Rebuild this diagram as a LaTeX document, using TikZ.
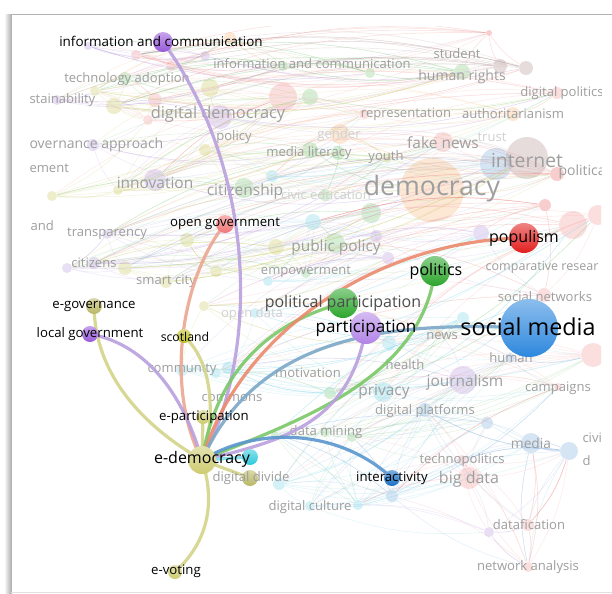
\documentclass[tikz,border=0pt]{standalone}
\usepackage{fontspec}
\setmainfont{Open Sans}
\usetikzlibrary{positioning}

% node colours
\definecolor{cOlive}{RGB}{206,204,112}
\definecolor{cScot}{RGB}{190,190,38}
\definecolor{cPurple}{RGB}{152,88,218}
\definecolor{cLilac}{RGB}{178,132,230}
\definecolor{cRed}{RGB}{226,30,30}
\definecolor{cSalmon}{RGB}{240,118,118}
\definecolor{cGreen}{RGB}{44,166,44}
\definecolor{cBlue}{RGB}{46,136,222}
\definecolor{cNavy}{RGB}{24,110,196}
\definecolor{cCyan}{RGB}{44,200,220}
% edge colours
\definecolor{eOlive}{RGB}{212,212,138}
\definecolor{ePurple}{RGB}{186,160,222}
\definecolor{eOrange}{RGB}{236,138,108}
\definecolor{eSalmon}{RGB}{236,166,146}
\definecolor{eGreen}{RGB}{122,200,104}
\definecolor{eBlue}{RGB}{90,150,206}
\definecolor{eTeal}{RGB}{124,168,200}
% faded colours
\definecolor{cPinkL}{RGB}{244,150,150}
\definecolor{cGreenL}{RGB}{120,200,120}
\definecolor{cOliveL}{RGB}{200,200,90}
\definecolor{cPurpleL}{RGB}{180,150,225}
\definecolor{cCyanL}{RGB}{110,210,230}
\definecolor{cBlueL}{RGB}{120,170,220}
\definecolor{cOrangeL}{RGB}{250,180,120}
\definecolor{cBrownL}{RGB}{175,140,140}
\definecolor{cRedL}{RGB}{235,90,90}

\tikzset{every picture/.style={line width=0.75pt}}
\tikzset{
	bgnode/.style={circle, inner sep=0pt, minimum size=#1*1.5pt, fill opacity=0.3},
	bgedge/.style={line width=0.35pt, draw opacity=0.22},
	bglab/.style={inner sep=0pt, text=black!38, font=\fontsize{9.8}{11}\selectfont},
	bgfaint/.style={bglab, text=black!18},
	bgmid/.style={bglab, font=\fontsize{11.6}{13}\selectfont},
	hinode/.style={circle, inner sep=0pt, minimum size=#1*1.5pt},
	hifill/.style={top color=#1!55!white, bottom color=#1},
	hiedge/.style={line width=2.4pt, draw opacity=0.9},
	hilab/.style={inner sep=0pt, text=black, font=\fontsize{9.9}{11}\selectfont},
	himid/.style={hilab, font=\fontsize{12}{14}\selectfont}
}

% faded network: x/y/radius/colour
\def\bglist{88/46/4/cPurpleL, 136/55/5/cPinkL, 171/66/5/cPinkL, 205/56/5/cPurpleL,
	230/38/6/cOrangeL, 283/66/5/cGreenL, 370/73/5/cGreenL, 462/72/8/cGreenL,
	489/33/3/cRedL, 500/66/7/cBrownL, 526/68/7/cBrownL, 125/78/6/cGreenL,
	57/100/5/cPurpleL, 95/91/5/cOliveL, 114/106/8/cOliveL, 155/100/7/cPinkL,
	148/120/5/cPinkL, 210/88/9/cOliveL, 220/117/12/cPurpleL, 283/97/14/cPinkL,
	310/97/8/cGreenL, 364/114/5/cPinkL, 513/114/7/cOrangeL, 557/93/6/cPinkL,
	93/145/6/cPurpleL, 52/196/5/cOliveL, 118/190/5/cOliveL, 155/180/11/cPurpleL,
	205/150/6/cOliveL, 244/188/10/cGreenL, 272/176/6/cCyanL, 310/150/8/cGreenL,
	338/153/7/cGreenL, 340/134/10/cOrangeL, 387/158/5/cOliveL, 443/142/10/cPinkL,
	432/190/32/cOrangeL, 496/164/16/cBlueL, 527/158/21/cBrownL, 557/174/7/cRedL,
	325/195/6/cGreenL, 107/234/5/cPurpleL, 67/268/5/cPurpleL, 94/263/6/cPurpleL,
	125/268/7/cOliveL, 187/240/7/cOliveL, 166/282/6/cOliveL, 216/271/6/cOliveL,
	276/247/8/cOliveL, 268/281/5/cCyanL, 313/222/8/cCyanL, 306/273/5/cGreenL,
	335/243/10/cGreenL, 371/213/10/cGreenL, 376/236/6/cPurpleL, 388/258/6/cPurpleL,
	481/233/8/cPurpleL, 545/205/6/cRedL, 573/225/14/cPinkL, 598/215/10/cPinkL,
	544/295/7/cPinkL, 204/306/5/cOliveL, 255/313/5/cCyanL, 182/370/6/cCyanL,
	216/373/5/cCyanL, 228/368/6/cCyanL, 330/393/6/cGreenL, 383/392/10/cCyanL,
	389/343/7/cCyanL, 439/333/4/cOrangeL, 463/318/6/cCyanL, 463/380/14/cPurpleL,
	593/355/12/cPinkL, 558/387/4/cPinkL, 510/358/5/cBlueL, 275/435/4/cGreenL,
	325/432/5/cGreenL, 352/437/5/cGreenL, 279/484/6/cCyanL, 310/506/5/cCyanL,
	358/505/5/cCyanL, 392/496/6/cBlueL, 425/410/7/cBlueL, 487/423/6/cBlueL,
	462/460/5/cPinkL, 469/478/11/cPinkL, 531/443/10/cBlueL, 569/451/9/cBlueL,
	489/532/5/cPurpleL, 528/525/6/cPinkL, 528/567/5/cPinkL}

\begin{document}
\begin{tikzpicture}[x=0.75pt,y=0.75pt,yscale=-1,xscale=1]
	\useasboundingbox (0,0) rectangle (612,594);

	%Shape: Frame
	\fill[white] (0,0) rectangle (612,594);
	\shade[left color=white, right color=black!30] (4,14) rectangle (11,594);
	\draw[black!30] (11,594) -- (11,14) -- (612,14);
	\draw[black!12] (11,592) -- (612,592);

	%Faded network
	\begin{scope}
	\clip (29,26) rectangle (601,586);
	\foreach \x/\y/\r/\c [count=\n] in \bglist {
		\node[bgnode=\r, fill=\c] (bg\n) at (\x,\y) {};
		\xdef\nbg{\n}
	}
	\pgfmathsetseed{2024}
	\foreach \x/\y/\r/\c [count=\n] in \bglist {
		\foreach \k in {1,...,8} {
			\pgfmathtruncatemacro{\lo}{max(1,\n-9)}
			\pgfmathtruncatemacro{\hi}{min(\nbg,\n+9)}
			\pgfmathtruncatemacro{\m}{random(\lo,\hi)}
			\ifnum\m=\n\else
				\draw[bgedge, \c] (bg\n) to[bend left=12] (bg\m);
			\fi
		}
	}

	% Text Node
	\node[bglab] (l-infocom) at (312,64) {information and communication};
	\node[bglab] (l-student) at (457,54) {student};
	\node[bglab, font=\fontsize{10.5}{12}\selectfont] (l-human) at (462,77) {human rights};
	\node[bglab] (l-techad) at (127,79) {technology adoption};
	\node[bglab] (l-digpol) at (562,93) {digital politics};
	\node[bglab, anchor=west] (l-stain) at (29,100) {stainability};
	\node[bgmid, font=\fontsize{12.3}{14}\selectfont] (l-digdem) at (218,114) {digital democracy};
	\node[bglab] (l-repr) at (406,114) {representation};
	\node[bglab] (l-autho) at (513,114) {authoritarianism};
	\node[bglab] (l-policy) at (234,137) {policy};
	\node[bglab, anchor=west, font=\fontsize{10.5}{12}\selectfont] (l-govapp) at (29,145) {overnance approach};
	\node[bgfaint] (l-gender) at (339,135) {gender};
	\node[bgfaint] (l-trust) at (492,137) {trust};
	\node[bgmid] (l-fake) at (443,143) {fake news};
	\node[bglab] (l-medlit) at (309,153) {media literacy};
	\node[bglab] (l-youth) at (386,157) {youth};
	\node[bgmid, font=\fontsize{14.5}{16}\selectfont] (l-internet) at (527,160) {internet};
	\node[bglab, anchor=west, font=\fontsize{10.5}{12}\selectfont] (l-politica) at (558,172) {politica};
	\node[bglab, anchor=west] (l-ement) at (29,168) {ement};
	\node[bgmid] (l-innov) at (155,183) {innovation};
	\node[bgmid] (l-citiz) at (245,191) {citizenship};
	\node[bgfaint] (l-civic) at (326,195) {civic education};
	\node[bgmid, font=\fontsize{20}{22}\selectfont] (l-democ) at (432,189) {democracy};
	\node[bglab, anchor=west] (l-and) at (30,226) {and};
	\node[bglab] (l-transp) at (107,234) {transparency};
	\node[bgmid] (l-pubpol) at (336,247) {public policy};
	\node[bglab] (l-citizens) at (94,263) {citizens};
	\node[bglab] (l-empow) at (306,272) {empowerment};
	\node[bglab, anchor=east, font=\fontsize{9.4}{11}\selectfont] (l-compar) at (599,267) {comparative resear};
	\node[bglab] (l-smart) at (166,281) {smart city};
	\node[bglab] (l-socnet) at (545,297) {social networks};
	\node[bgfaint] (l-opendata) at (252,314) {open data};
	\node[bglab] (l-news) at (442,336) {news};
	\node[bglab] (l-human2) at (511,358) {human};
	\node[bglab] (l-health) at (405,365) {health};
	\node[bglab] (l-commu) at (182,369) {community};
	\node[bglab] (l-motiv) at (308,373) {motivation};
	\node[bgmid] (l-journ) at (465,382) {journalism};
	\node[bglab] (l-campa) at (558,388) {campaigns};
	\node[bgmid] (l-privacy) at (384,392) {privacy};
	\node[bglab] (l-commons) at (232,398) {commons};
	\node[bglab] (l-digplat) at (425,411) {digital platforms};
	\node[bglab] (l-datamin) at (326,432) {data mining};
	\node[bglab, font=\fontsize{10.3}{12}\selectfont] (l-media) at (531,443) {media};
	\node[bglab, anchor=west] (l-civi) at (582,438) {civi};
	\node[bglab, anchor=west] (l-d) at (582,461) {d};
	\node[bglab] (l-techno) at (462,460) {technopolitics};
	\node[bgmid, font=\fontsize{12}{14}\selectfont] (l-bigdata) at (469,479) {big data};
	\node[bglab] (l-digcult) at (310,507) {digital culture};
	\node[bglab] (l-datafic) at (529,525) {datafication};
	\node[bglab] (l-netan) at (528,567) {network analysis};
	\end{scope}

	%Highlighted nodes (positions)
	\coordinate (edem) at (202,460);
	\coordinate (info) at (163,42);
	\coordinate (opengov) at (225,224);
	\coordinate (egov) at (94,306);
	\coordinate (localgov) at (90,334);
	\coordinate (scot) at (184,336);
	\coordinate (epart) at (203,417);
	\coordinate (evote) at (175,572);
	\coordinate (cyan) at (250,457);
	\coordinate (ddiv) at (250,478);
	\coordinate (interact) at (392,478);
	\coordinate (politics) at (435,271);
	\coordinate (populism) at (524,238);
	\coordinate (polpart) at (343,303);
	\coordinate (part) at (366,328);
	\coordinate (smedia) at (529,328);

	%Curve Lines
	\draw[hiedge, ePurple] (info) .. controls (250,160) and (265,340) .. (edem);
	\draw[hiedge, eSalmon] (opengov) .. controls (180,280) and (165,390) .. (edem);
	\draw[hiedge, eOlive] (scot) .. controls (215,365) and (215,420) .. (edem);
	\draw[hiedge, eOlive] (egov) .. controls (95,380) and (150,430) .. (edem);
	\draw[hiedge, ePurple] (localgov) .. controls (150,345) and (185,400) .. (edem);
	\draw[hiedge, eOlive] (epart) -- (edem);
	\draw[hiedge, eOlive] (edem) .. controls (215,500) and (210,540) .. (evote);
	\draw[hiedge, eGreen] (politics) .. controls (420,380) and (300,420) .. (edem);
	\draw[hiedge, eGreen] (polpart) .. controls (260,325) and (215,380) .. (edem);
	\draw[hiedge, eOrange] (populism) .. controls (380,240) and (240,330) .. (edem);
	\draw[hiedge, eTeal] (smedia) .. controls (400,322) and (260,330) .. (edem);
	\draw[hiedge, ePurple] (part) .. controls (350,420) and (290,440) .. (edem);
	\draw[hiedge, eBlue] (interact) .. controls (340,430) and (260,425) .. (edem);
	\draw[hiedge, cCyan!60] (cyan) -- (edem);
	\draw[hiedge, eOlive] (ddiv) -- (edem);

	%Shape: Circle
	\node[hinode=14, hifill=cOlive] (edem-n) at (edem) {};
	\node[hinode=10, hifill=cPurple] (info-n) at (info) {};
	\node[hinode=9, hifill=cSalmon] (opengov-n) at (opengov) {};
	\node[hinode=8, hifill=cOlive!90!black] (egov-n) at (egov) {};
	\node[hinode=8, hifill=cPurple] (localgov-n) at (localgov) {};
	\node[hinode=7, hifill=cScot] (scot-n) at (scot) {};
	\node[hinode=7, hifill=cOlive] (epart-n) at (epart) {};
	\node[hinode=7, hifill=cOlive] (evote-n) at (evote) {};
	\node[hinode=8, hifill=cCyan] (cyan-n) at (cyan) {};
	\node[hinode=8, hifill=cOlive!90!black] (ddiv-n) at (ddiv) {};
	\node[hinode=8, hifill=cNavy] (interact-n) at (interact) {};
	\node[hinode=15, hifill=cGreen] (politics-n) at (politics) {};
	\node[hinode=15, hifill=cRed] (populism-n) at (populism) {};
	\node[hinode=15, hifill=cGreen] (polpart-n) at (polpart) {};
	\node[hinode=16, hifill=cLilac] (part-n) at (part) {};
	\node[hinode=29, hifill=cBlue] (smedia-n) at (smedia) {};

	% Text Node
	\node[bglab] (ddiv-t) at (251,478) {digital divide};
	\node[hilab, font=\fontsize{10.1}{12}\selectfont] (info-t) at (161,41) {information and communication};
	\node[hilab] (opengov-t) at (225,224) {open government};
	\node[hilab] (egov-t) at (94,306) {e-governance};
	\node[hilab] (localgov-t) at (90,334) {local government};
	\node[hilab, font=\fontsize{9.2}{11}\selectfont] (scot-t) at (185,337) {scotland};
	\node[hilab] (epart-t) at (204,417) {e-participation};
	\node[himid] (edem-t) at (202,459) {e-democracy};
	\node[hilab] (evote-t) at (176,571) {e-voting};
	\node[hilab] (interact-t) at (392,478) {interactivity};
	\node[himid] (politics-t) at (436,271) {politics};
	\node[himid] (populism-t) at (524,238) {populism};
	\node[himid, text=black!70] (polpart-t) at (343,303) {political participation};
	\node[himid, font=\fontsize{12.8}{15}\selectfont] (part-t) at (366,328) {participation};
	\node[himid, font=\fontsize{17.5}{20}\selectfont] (smedia-t) at (528,327) {social media};

\end{tikzpicture}
\end{document}
